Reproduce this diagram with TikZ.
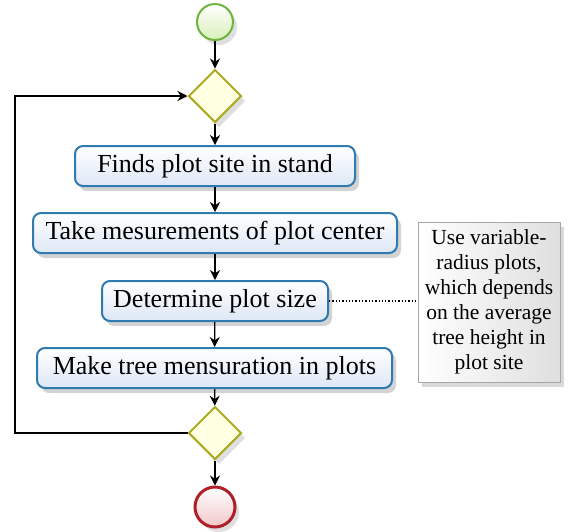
\documentclass[tikz,border=0pt]{standalone}
\usepackage{fontspec}
\setmainfont{Liberation Serif}
\usetikzlibrary{shapes.geometric,arrows.meta,shadows}
\definecolor{boxblue}{HTML}{2F7AAE}
\definecolor{boxfill}{HTML}{DDE7F6}
\definecolor{startg}{HTML}{6FB43F}
\definecolor{startfill}{HTML}{D8F0B8}
\definecolor{endr}{HTML}{B0202A}
\definecolor{endfill}{HTML}{F2C6C8}
\definecolor{gateol}{HTML}{AAAA22}
\definecolor{gatefill}{HTML}{FFFFE2}
\tikzset{
  x=1pt,y=-1pt,
  task/.style={draw=boxblue,line width=2pt,rounded corners=8pt,top color=white,bottom color=boxfill,
    minimum height=40pt,inner sep=0pt,font=\fontsize{26}{28}\selectfont,
    drop shadow={shadow xshift=4pt,shadow yshift=-5pt,opacity=0.35}},
  gate/.style={diamond,draw=gateol,line width=2pt,fill=gatefill,minimum width=53pt,minimum height=53pt,inner sep=0pt,
    drop shadow={shadow xshift=4pt,shadow yshift=-5pt,opacity=0.25}},
  startev/.style={circle,draw=startg,line width=2pt,top color=white,bottom color=startfill,minimum size=36pt,inner sep=0pt,
    drop shadow={shadow xshift=4pt,shadow yshift=-5pt,opacity=0.25}},
  endev/.style={circle,draw=endr,line width=3pt,top color=white,bottom color=endfill,minimum size=40pt,inner sep=0pt,
    drop shadow={shadow xshift=4pt,shadow yshift=-5pt,opacity=0.25}},
  note/.style={draw=gray!70,line width=0.6pt,left color=white,right color=gray!25,minimum width=142pt,minimum height=160pt,
    inner sep=1pt,align=center,font=\fontsize{21.5}{25}\selectfont,
    drop shadow={shadow xshift=4pt,shadow yshift=-5pt,opacity=0.3}},
  flow/.style={draw=black,line width=1.2pt,-{Stealth[length=10pt,width=10pt]}},
}
\begin{document}
\begin{tikzpicture}
\useasboundingbox (0,0) rectangle (568,531);
\node[startev] (start) at (215,22) {};
\node[gate] (g1) at (215,96) {};
\node[task,minimum width=280pt] (t1) at (215,166) {Finds plot site in stand};
\node[task,minimum width=364pt] (t2) at (215,233) {Take mesurements of plot center};
\node[task,minimum width=226pt] (t3) at (215,301) {Determine plot size};
\node[task,minimum width=355pt] (t4) at (214.5,368) {Make tree mensuration in plots};
\node[gate] (g2) at (215,433) {};
\node[endev] (end) at (215,507) {};
\node[note] (n) at (489,302) {Use variable-\\radius plots,\\which depends\\on the average\\tree height in\\plot site};
\coordinate (c1) at (15,433);
\coordinate (c2) at (15,96);
\draw[flow] (start) -- (g1);
\draw[flow] (g1) -- (t1);
\draw[flow] (t1) -- (t2);
\draw[flow] (t2) -- (t3);
\draw[flow] (t3) -- (t4);
\draw[flow] (t4) -- (g2);
\draw[flow] (g2) -- (end);
\draw[flow] (g2.west) -- (c1) -- (c2) -- (g1.west);
\draw[line width=1.3pt,dotted] (t3.east) -- (n.west |- t3.east);
\end{tikzpicture}
\end{document}
